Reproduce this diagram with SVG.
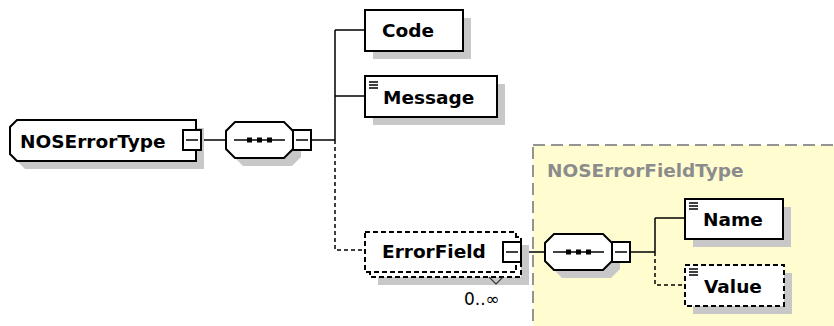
<svg xmlns="http://www.w3.org/2000/svg" width="834" height="326" viewBox="0 0 834 326">
<style>
.box{fill:#fff;stroke:#000;stroke-width:2}
.dbox{fill:#fff;stroke:#000;stroke-width:2;stroke-dasharray:5,3}
.sh{fill:#c8c8c8}
.ln{fill:none;stroke:#000;stroke-width:1.5}
.dln{fill:none;stroke:#000;stroke-width:1.5;stroke-dasharray:4,3}
.lbl{font-family:"DejaVu Sans","Verdana",sans-serif;font-weight:bold;font-size:18.5px;fill:#000}
.tlbl{font-family:"DejaVu Sans","Verdana",sans-serif;font-weight:bold;font-size:18.5px;fill:#8c8c8c}
.occ{font-family:"DejaVu Sans",sans-serif;font-size:17px;fill:#000}
.mbox{fill:#fff;stroke:#000;stroke-width:2}
.ico{stroke:#000;stroke-width:1.5}
</style>
<defs>
<g id="seq">
<polygon points="9,0 58,0 67,9 67,27 58,36 9,36 0,27 0,9"/>
</g>
<g id="seqDots">
<line x1="8" y1="18" x2="59" y2="18" stroke="#000" stroke-width="1.5"/>
<rect x="21" y="15.5" width="5" height="5" fill="#000"/>
<rect x="31" y="15.5" width="5" height="5" fill="#000"/>
<rect x="41" y="15.5" width="5" height="5" fill="#000"/>
</g>
<g id="minus">
<rect x="0" y="0" width="18" height="20" class="mbox"/>
<line x1="3" y1="10" x2="15" y2="10" stroke="#000" stroke-width="1.5"/>
</g>
<g id="icon">
<line x1="0" y1="0" x2="9" y2="0" class="ico"/>
<line x1="0" y1="3" x2="9" y2="3" class="ico"/>
<line x1="0" y1="6" x2="9" y2="6" class="ico"/>
</g>
</defs>

<g id="NOSErrorFieldType">
<rect x="533" y="145" width="320" height="200" fill="#fffdd0" stroke="#949494" stroke-width="2" stroke-dasharray="12,6"/>
<text x="547" y="177" class="tlbl">NOSErrorFieldType</text>
</g>

<g id="connectors">
<path d="M202,140 H226" class="ln"/>
<path d="M311,140 H335" class="ln"/>
<path d="M335,30 V140 M335,30 H365 M335,96 H365" class="ln"/>
<path d="M335,140 V250 H365" class="dln"/>
<path d="M521,252 H545" class="ln"/>
<path d="M630,252 H655" class="ln"/>
<path d="M655,218 V252 M655,218 H685" class="ln"/>
<path d="M655,252 V285 H685" class="dln"/>
</g>

<g id="NOSErrorType">
<path d="M25,128 H204 V169 H25 L18,162 V135 Z" class="sh"/>
<path d="M17,120 H196 V161 H17 L10,154 V127 Z" class="box"/>
<text x="20" y="148" class="lbl">NOSErrorType</text>
<use href="#minus" x="183" y="130"/>
</g>

<g id="sequence1">
<use href="#seq" x="234" y="130" class="sh"/>
<use href="#seq" x="226" y="122" fill="#fff" stroke="#000" stroke-width="2"/>
<use href="#seqDots" x="226" y="122"/>
<use href="#minus" x="293" y="130"/>
</g>

<g id="Code">
<rect x="373" y="18" width="98" height="41" class="sh"/>
<rect x="365" y="10" width="98" height="41" class="box"/>
<text x="382" y="37" class="lbl">Code</text>
</g>

<g id="Message">
<rect x="373" y="84" width="132" height="41" class="sh"/>
<rect x="365" y="76" width="132" height="41" class="box"/>
<use href="#icon" x="369" y="82"/>
<text x="383" y="104" class="lbl">Message</text>
</g>

<g id="ErrorField">
<rect x="378" y="245" width="151" height="40" class="sh"/>
<rect x="370" y="237" width="151" height="40" class="dbox"/>
<rect x="365" y="232" width="151" height="40" class="dbox"/>
<text x="382" y="258" class="lbl">ErrorField</text>
<use href="#minus" x="503" y="242"/>
<polyline points="489,277 496,284 503,277" fill="none" stroke="#333" stroke-width="1.2"/>
<text x="464" y="305" class="occ">0..∞</text>
</g>

<g id="sequence2">
<use href="#seq" x="553" y="242" class="sh"/>
<use href="#seq" x="545" y="234" fill="#fff" stroke="#000" stroke-width="2"/>
<use href="#seqDots" x="545" y="234"/>
<use href="#minus" x="612" y="242"/>
</g>

<g id="Name">
<rect x="693" y="207" width="98" height="40" class="sh"/>
<rect x="685" y="199" width="98" height="40" class="box"/>
<use href="#icon" x="689" y="203"/>
<text x="703" y="226" class="lbl">Name</text>
</g>

<g id="Value">
<rect x="693" y="273" width="99" height="41" class="sh"/>
<rect x="685" y="265" width="99" height="41" class="dbox"/>
<use href="#icon" x="689" y="269"/>
<text x="704" y="293" class="lbl">Value</text>
</g>
</svg>
